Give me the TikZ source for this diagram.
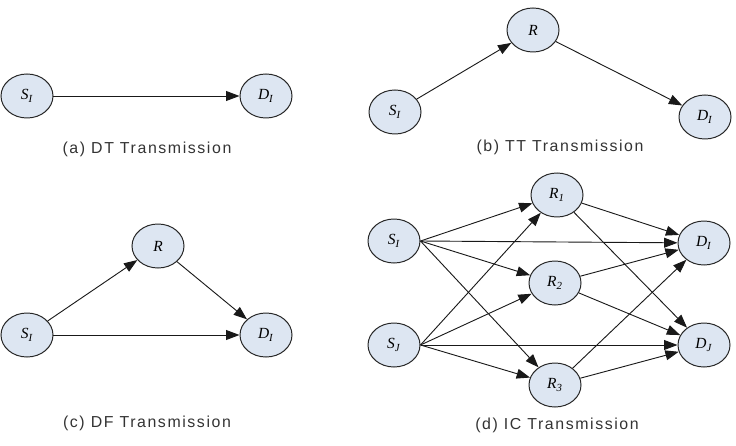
\documentclass[tikz,border=0pt]{standalone}
\usepackage{fontspec}
\setmainfont{Liberation Serif}
\newfontfamily\capfont[LetterSpace=10]{Liberation Sans}
\usepackage{xcolor}
\usetikzlibrary{arrows.meta,positioning,shapes.geometric}
\definecolor{nodefill}{RGB}{221,230,242}
\newcommand{\nlab}[2]{\textit{#1}\textsubscript{\textit{#2}}}

\begin{document}
\begin{tikzpicture}[
  x=0.025cm, y=-0.025cm,
  stn/.style={ellipse, draw=black!85, line width=0.7pt, fill=nodefill, minimum width=1.3cm, minimum height=1.1cm, inner sep=0pt, font=\fontsize{11}{13}\selectfont},
  arrow/.style={-{Triangle[length=9.5pt,width=7pt]}, line width=0.65pt, black!90},
  captxt/.style={font=\capfont\fontsize{11.3}{13}\selectfont, text=black!80}
]
\useasboundingbox (0,0) rectangle (736,446);

% (a) direct transmission
\node[stn] (sa) at (27,96) {\nlab{S}{I}};
\node[stn] (da) at (266,96) {\nlab{D}{I}};
\node[captxt] (capa) at (147,149) {(a) DT Transmission};
\draw[arrow] (sa) -- (da);

% (b) two-hop transmission
\node[stn] (sb) at (395,112) {\nlab{S}{I}};
\node[stn] (rb) at (533,30) {\textit{R}};
\node[stn] (db) at (705,117) {\nlab{D}{I}};
\node[captxt] (capb) at (560,147) {(b) TT Transmission};
\draw[arrow] (sb) -- (rb);
\draw[arrow] (rb) -- (db);

% (c) decode and forward
\node[stn] (sc) at (27,335) {\nlab{S}{I}};
\node[stn] (rc) at (158,246) {\textit{R}};
\node[stn] (dc) at (266,335) {\nlab{D}{I}};
\node[captxt] (capc) at (147,423) {(c) DF Transmission};
\draw[arrow] (sc) -- (rc);
\draw[arrow] (rc) -- (dc);
\draw[arrow] (sc) -- (dc);

% (d) interference channel
\node[stn] (si) at (394,241) {\nlab{S}{I}};
\node[stn] (sj) at (394,345) {\nlab{S}{J}};
\node[stn] (r1) at (557,195) {\nlab{R}{1}};
\node[stn] (r2) at (555,283) {\nlab{R}{2}};
\node[stn] (r3) at (555,385) {\nlab{R}{3}};
\node[stn] (d1) at (704,243) {\nlab{D}{I}};
\node[stn] (dj) at (704,345) {\nlab{D}{J}};
\node[captxt] (capd) at (557,425) {(d) IC Transmission};

\foreach \t in {r1,d1,r2,r3}
  \draw[arrow] (si.east) -- (\t);
\foreach \t in {r1,r2,dj,r3}
  \draw[arrow] (sj.east) -- (\t);
\foreach \s in {r1,r2,r3} {
  \draw[arrow] (\s) -- (d1);
  \draw[arrow] (\s) -- (dj);
}

\end{tikzpicture}
\end{document}
